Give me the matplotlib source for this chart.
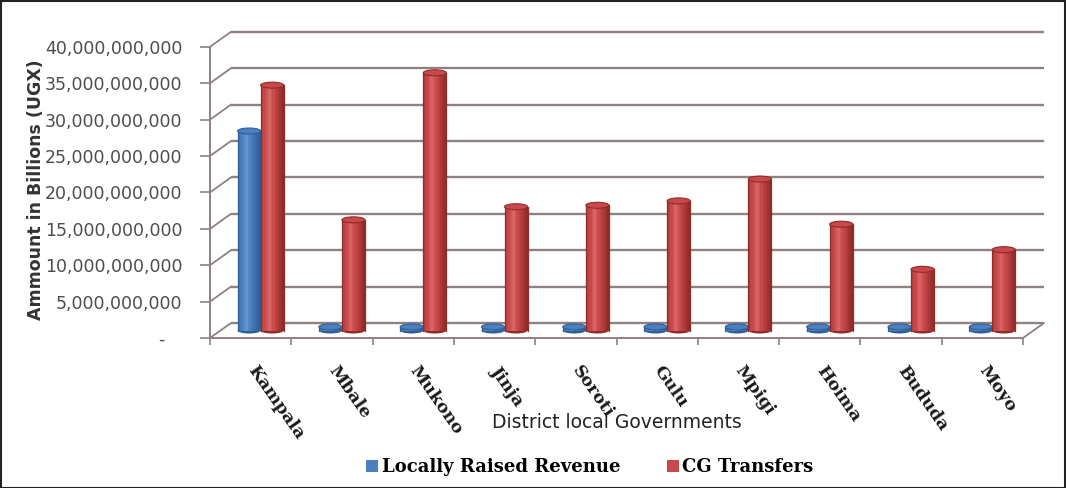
import numpy as np
import matplotlib
matplotlib.use("Agg")
import matplotlib.pyplot as plt
from matplotlib.transforms import ScaledTranslation
from matplotlib.patches import Ellipse, Rectangle, ConnectionPatch
from matplotlib.colors import to_rgb

# ---- data ----
districts = ["Kampala", "Mbale", "Mukono", "Jinja", "Soroti", "Gulu",
             "Mpigi", "Hoima", "Bududa", "Moyo"]
local_revenue = [27.4e9, 0.5e9, 0.5e9, 0.5e9, 0.5e9, 0.5e9, 0.5e9, 0.5e9, 0.5e9, 0.5e9]
cg_transfers = [33.7e9, 15.2e9, 35.4e9, 17.0e9, 17.2e9, 17.8e9, 20.8e9, 14.6e9, 8.4e9, 11.1e9]
series_names = ["Locally Raised Revenue", "CG Transfers"]
y_ticks = np.arange(0, 40e9 + 1, 5e9)

# ---- styling ----
W, H, DPI = 1066, 488, 100
GRID = "#8e8180"
BLUE = dict(dark="#2f5e97", base="#4a7fc0", light="#7fa8dc")
RED = dict(dark="#8f2b29", base="#c9494a", light="#e8807c")

fig = plt.figure(figsize=(W / DPI, H / DPI), dpi=DPI)
fig.patch.set_facecolor("white")
ax = fig.add_axes([210 / W, (H - 338) / H, 813 / W, 291.2 / H])
ax.set_xlim(-0.5, len(districts) - 0.5)
ax.set_ylim(0, 40e9)
ax.patch.set_alpha(0)


def depth(dx, dy):
    """Data transform pushed back into the 3-D box by (dx, dy) pixels."""
    return ax.transData + ScaledTranslation(dx / DPI, dy / DPI, fig.dpi_scale_trans)


back = depth(21, 15)      # back wall plane
mid = depth(10, 7.5)      # plane the columns stand in
px_y = 40e9 / 291.2       # data units per vertical pixel

x0, x1 = ax.get_xlim()

# back wall gridlines and side wall connectors
for v in y_ticks:
    ax.plot([x0, x1], [v, v], transform=back, color=GRID, lw=1.7,
            clip_on=False, zorder=1, solid_capstyle="butt")
    ax.add_artist(ConnectionPatch((x0, v), (x0, v), coordsA=ax.transData,
                                  coordsB=back, color=GRID, lw=1.3, zorder=1))
# floor, right edge
ax.add_artist(ConnectionPatch((x1, 0), (x1, 0), coordsA=ax.transData,
                              coordsB=back, color=GRID, lw=1.3, zorder=1))

# ---- cylinders ----
bw = 0.283
n_strips = 16


def cylinder(xc, h, pal, z):
    left = xc - bw / 2
    edges = np.linspace(left, left + bw, n_strips + 1)
    centers = (edges[:-1] + edges[1:]) / 2
    u = (centers - left) / bw
    k = np.clip(1 - np.abs(u - 0.38) / 0.62, 0, 1) ** 1.2
    d, b, l = (np.array(to_rgb(pal[c])) for c in ("dark", "base", "light"))
    cols = [tuple(d + (b - d) * min(1, kk * 1.6) + (l - b) * max(0, kk - 0.7) / 0.3 * 0.6)
            for kk in k]
    eh = 6 * px_y
    ax.add_patch(Ellipse((xc, 0), bw, eh, facecolor=pal["dark"], edgecolor="none",
                         transform=mid, zorder=z, clip_on=False))
    ax.bar(centers, [h] * n_strips, width=bw / n_strips * 1.05, bottom=0,
           color=cols, linewidth=0, transform=mid, zorder=z + 0.1, clip_on=False)
    ax.plot([left, left], [0, h], color=pal["dark"], lw=0.9, transform=mid, zorder=z + 0.2)
    ax.plot([left + bw, left + bw], [0, h], color=pal["dark"], lw=0.9, transform=mid,
            zorder=z + 0.2)
    ax.add_patch(Ellipse((xc, h), bw, eh, facecolor=pal["base"], edgecolor=pal["dark"],
                         lw=0.8, transform=mid, zorder=z + 0.3, clip_on=False))


for i in range(len(districts)):
    cylinder(i - bw / 2, local_revenue[i], BLUE, 3 + i)
    cylinder(i + bw / 2, cg_transfers[i], RED, 3.5 + i)

# ---- front axes ----
for s in ("top", "right"):
    ax.spines[s].set_visible(False)
for s in ("left", "bottom"):
    ax.spines[s].set_color(GRID)
    ax.spines[s].set_linewidth(1.4)

ax.set_yticks(y_ticks)
ax.set_yticklabels(["-   " if v == 0 else f"{v:,.0f}" for v in y_ticks])
ax.tick_params(axis="y", direction="out", length=7, width=1.2, color=GRID, pad=13,
               labelsize=12.5, labelcolor="#4d4d4d")

ax.set_xticks(np.arange(-0.5, len(districts), 1.0))
ax.set_xticklabels([])
ax.set_xticks(np.arange(len(districts)), minor=True)
ax.set_xticklabels(districts, minor=True, rotation=-55, ha="left", va="center",
                   rotation_mode="anchor", family="DejaVu Serif", weight="bold",
                   fontsize=12.5, color="#1a1a1a")
ax.tick_params(axis="x", which="major", direction="out", length=5, width=1.2, color=GRID)
ax.tick_params(axis="x", which="minor", length=0, pad=21)

ax.set_ylabel("Ammount in Billions (UGX)", fontsize=12.5, weight="bold", color="#333333")
ax.yaxis.set_label_coords(-0.203, 0.508)
ax.set_xlabel("District local Governments", fontsize=13.5, color="#222222")
ax.xaxis.set_label_coords(0.5006, -0.257)

# legend
handles = [Rectangle((0, 0), 1, 1, facecolor=BLUE["base"]),
           Rectangle((0, 0), 1, 1, facecolor=RED["base"])]
fig.legend(handles, series_names, loc="center", bbox_to_anchor=(590 / W, 1 - 467 / H),
           ncol=2, frameon=False, handlelength=0.65, handleheight=0.65,
           handletextpad=0.2, columnspacing=2.6,
           prop=dict(family="DejaVu Serif", weight="bold", size=13))

# outer frame
fig.add_artist(Rectangle((0.5 / W, 0.5 / H), 1 - 1.5 / W, 1 - 1.5 / H,
                         transform=fig.transFigure, fill=False,
                         edgecolor="#222222", lw=1.5))

fig.savefig("out.png", dpi=DPI)
